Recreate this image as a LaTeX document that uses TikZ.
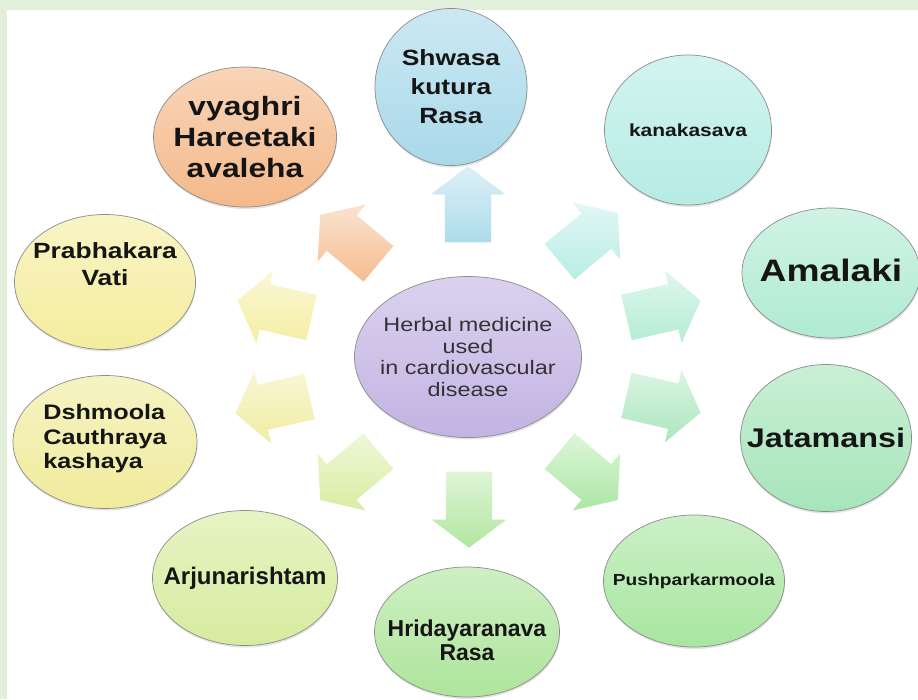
\documentclass[tikz,border=0pt]{standalone}
\usepackage{fontspec}
\setmainfont{Liberation Sans}[FakeStretch=1.2]
\newfontfamily\tallsans{Liberation Sans}
\usetikzlibrary{shapes.geometric, shapes.arrows, shadows}
\definecolor{hmFrame}{HTML}{E2EFDA}
\definecolor{hmEdge}{HTML}{8C8C8C}
\definecolor{hmInk}{HTML}{151515}
\definecolor{hmLilac}{HTML}{C2B3E3}
\definecolor{hmSky}{HTML}{A9D9EA}
\definecolor{hmAqua}{HTML}{B5ECE4}
\definecolor{hmMint}{HTML}{B0EBD3}
\definecolor{hmJade}{HTML}{A6E5BA}
\definecolor{hmLeaf}{HTML}{A8E6A0}
\definecolor{hmGrass}{HTML}{AEE59B}
\definecolor{hmLime}{HTML}{D6EC9E}
\definecolor{hmStraw}{HTML}{F0EB9C}
\definecolor{hmLemon}{HTML}{F4ED9E}
\definecolor{hmPeach}{HTML}{F4B98A}

\begin{document}
\begin{tikzpicture}[
      x=1pt, y=-1pt,
      every node/.style={text=hmInk},
      herb/.style={ellipse, draw=hmEdge, line width=0.7pt, inner sep=0pt,
                   top color=#1!60!white, bottom color=#1,
                   drop shadow={shadow xshift=0.5pt, shadow yshift=-2pt, opacity=0.22}},
      tag/.style 2 args={align=center, inner sep=0pt, font=\bfseries\fontsize{#1}{#2}\selectfont},
      blk/.style 2 args={single arrow, draw=none, inner xsep=0pt, inner ysep=23pt,
                   minimum height=76pt,
                   single arrow head extend=14pt, single arrow tip angle=106,
                   single arrow head indent=0pt, rotate=#2,
                   top color=#1!40!white, bottom color=#1!95!white}
    ]
    % --- frame ---
    \fill[hmFrame] (0,0) rectangle (918,699);
    \fill[white] (7,10) rectangle (918,699);
    \useasboundingbox (0,0) rectangle (918,699);

    % --- block arrows round the hub ---
    \node[blk={hmSky}{90}]     (toShwasa)  at (468,213) {};
    \node[blk={hmAqua}{40}]    (toKanaka)  at (582,243) {};
    \node[blk={hmMint}{13}]    (toAmalaki) at (655,311) {};
    \node[blk={hmJade}{-13}]   (toJata)    at (655,402) {};
    \node[blk={hmLeaf}{-40}]   (toPushpa)  at (582,470) {};
    \node[blk={hmGrass}{-90}]  (toHridaya) at (469,501) {};
    \node[blk={hmLime}{-140}]  (toArjuna)  at (356,470) {};
    \node[blk={hmStraw}{193}]  (toDash)    at (281,403) {};
    \node[blk={hmLemon}{167}]  (toPrabha)  at (283,311) {};
    \node[blk={hmPeach}{140}]  (toVyaghri) at (356,245) {};

    % --- hub ---
    \node[herb=hmLilac, minimum width=227pt, minimum height=161pt,
          label={[align=center, font=\fontsize{19.5}{21.5}\selectfont, text=black!80]center:Herbal medicine\\used\\in cardiovascular\\disease}] (hub) at (468,357) {};

    % --- remedies ---
    \node[herb=hmSky, minimum width=152pt, minimum height=157pt,
          label={[tag={22}{29}]center:Shwasa\\kutura\\Rasa}] (shwasa) at (451,87) {};
    \node[herb=hmAqua, minimum width=167pt, minimum height=150pt,
          label={[tag={17.5}{20}]center:kanakasava}] (kanaka) at (688,130) {};
    \node[herb=hmMint, minimum width=178pt, minimum height=130pt,
          label={[tag={31}{34}, yshift=3pt]center:Amalaki}] (amalaki) at (831,273) {};
    \node[herb=hmJade, minimum width=171pt, minimum height=147pt,
          label={[tag={27}{30}]center:Jatamansi}] (jata) at (826,438) {};
    \node[herb=hmLeaf, minimum width=181pt, minimum height=132pt,
          label={[tag={16}{18}]center:Pushparkarmoola}] (pushpa) at (694,581) {};
    \node[herb=hmGrass, minimum width=185pt, minimum height=130pt,
          label={[tag={23}{24}, font=\tallsans\bfseries\fontsize{23}{24}\selectfont, yshift=-8pt]center:Hridayaranava\\Rasa}] (hridaya) at (467,632) {};
    \node[herb=hmLime, minimum width=185pt, minimum height=135pt,
          label={[tag={24}{26}, font=\tallsans\bfseries\fontsize{24}{26}\selectfont]center:Arjunarishtam}] (arjuna) at (245,578) {};
    \node[herb=hmStraw, minimum width=184pt, minimum height=133pt,
          label={[tag={21}{24.5}, align=left, yshift=3pt]center:Dshmoola\\Cauthraya\\kashaya}] (dash) at (105,442) {};
    \node[herb=hmLemon, minimum width=181pt, minimum height=135pt,
          label={[tag={22}{27}, yshift=18pt]center:Prabhakara\\Vati}] (prabha) at (105,282) {};
    \node[herb=hmPeach, minimum width=183pt, minimum height=140pt,
          label={[tag={26.5}{31}]center:vyaghri\\Hareetaki\\avaleha}] (vyaghri) at (245,137) {};
  \end{tikzpicture}
\end{document}
